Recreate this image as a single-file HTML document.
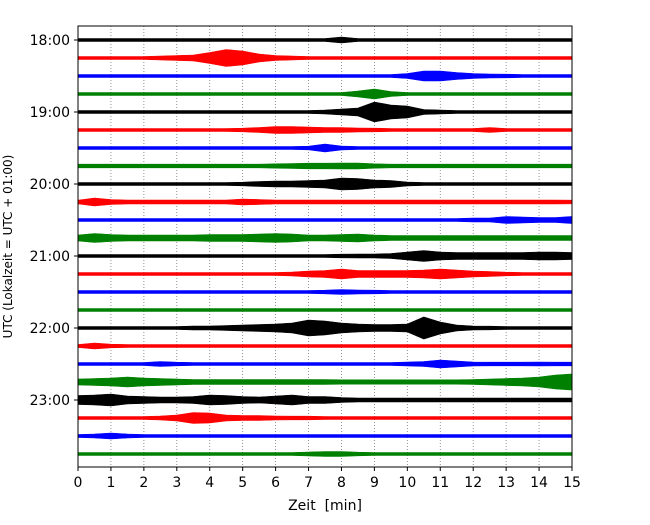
<!DOCTYPE html>
<html><head><meta charset="utf-8"><style>
body{margin:0;background:#fff;}
svg text{font-family:"DejaVu Sans","Liberation Sans",sans-serif;white-space:pre;}
</style></head><body>
<svg id="c" width="650" height="520" xmlns="http://www.w3.org/2000/svg"></svg>
<script>
// Time tick labels (minutes) and hour labels
const xTicks = [0,1,2,3,4,5,6,7,8,9,10,11,12,13,14,15];
const yTickLabels = ["18:00","19:00","20:00","21:00","22:00","23:00"];
const yTickValues = [0,4,8,12,16,20];
const traceColors = ["#000000","#ff0000","#0000ff","#008000"];
// sample times every 0.5 min
const sampleTimes = [0,0.5,1,1.5,2,2.5,3,3.5,4,4.5,5,5.5,6,6.5,7,7.5,8,8.5,9,9.5,10,10.5,11,11.5,12,12.5,13,13.5,14,14.5,15];
// envelope half-amplitudes per trace (px units, trace spacing = 18)
const t00 = [1.5,1.5,1.5,1.5,1.5,1.5,1.5,1.5,1.5,1.5,1.5,1.5,1.5,1.5,1.5,1.5,3,1.5,1.5,1.5,1.5,1.5,1.5,1.5,1.5,1.5,1.5,1.5,1.5,1.5,1.5];
const t01 = [1.5,1.5,1.5,1.5,1.5,2,2.5,3,5.5,8.5,7,4,2.5,2,1.5,1.5,1.5,1.5,1.5,1.5,1.5,1.5,1.5,1.5,1.5,1.5,1.5,1.5,1.5,1.5,1.5];
const t02 = [1.5,1.5,1.5,1.5,1.5,1.5,1.5,1.5,1.5,1.5,1.5,1.5,1.5,1.5,1.5,1.5,1.5,1.5,1.5,1.5,2.5,5,5,3.5,2.5,2,1.8,1.5,1.5,1.5,1.5];
const t03 = [1.5,1.5,1.5,1.5,1.5,1.5,1.5,1.5,1.5,1.5,1.5,1.5,1.5,1.5,1.5,1.5,1.5,3,5,2.5,1.5,1.5,1.5,1.5,1.5,1.5,1.5,1.5,1.5,1.5,1.5];
const t04 = [1.5,1.5,1.5,1.5,1.5,1.5,1.5,1.5,1.5,1.5,1.5,1.5,1.5,1.5,1.5,2,3,4,10,7,6,2.5,2,1.5,1.5,1.5,1.5,1.5,1.5,1.5,1.5];
const t05 = [1.5,1.5,1.5,1.5,1.5,1.5,1.5,1.5,1.5,1.5,1.8,2.5,3.5,3.5,3,2.5,2.5,2,1.8,1.5,1.5,1.5,1.5,1.5,1.5,2.5,1.5,1.5,1.5,1.5,1.5];
const t06 = [1.5,1.5,1.5,1.5,1.5,1.5,1.5,1.5,1.5,1.5,1.5,1.5,1.5,1.5,1.8,4,2,1.5,1.5,1.5,1.5,1.5,1.5,1.5,1.5,1.5,1.5,1.5,1.5,1.5,1.5];
const t07 = [1.8,1.8,1.8,1.8,1.8,1.8,1.8,1.8,1.8,1.8,1.8,1.8,2.2,2.5,2.8,2.8,3,3,2.2,1.8,1.8,1.8,1.8,1.8,1.8,1.8,1.8,1.8,1.8,1.8,1.8];
const t08 = [1.5,1.5,1.5,1.5,1.5,1.5,1.5,1.5,1.5,1.5,1.8,2.5,3,3,3.5,4,6,5.5,4,3.5,2,1.5,1.5,1.5,1.5,1.5,1.5,1.5,1.5,1.5,1.5];
const t09 = [1.8,4,2.5,2,2,2,2,2,2,2,3,2.5,2,2,2,2,2,2,2,2,2,2,2,2,2,2,2,2,2,2,1.8];
const t10 = [1.5,1.5,1.5,1.5,1.5,1.5,1.5,1.5,1.5,1.5,1.5,1.5,1.5,1.5,1.5,1.5,1.5,1.5,1.5,1.5,1.5,1.5,1.5,1.5,2,2,3.5,3,2.5,2.5,3.5];
const t11 = [3,4.5,3.5,3,3,3,3,3,3.5,3.5,3.5,4,4.5,4,3,3,3.5,4,3,2.5,2.5,2.5,2.5,2.5,2.5,2.5,2.5,2.5,2.5,2.5,2.5];
const t12 = [1.5,1.5,1.5,1.5,1.5,1.5,1.5,1.5,1.5,1.5,1.5,1.5,1.5,1.5,1.5,1.5,1.8,2,2,2.5,4,5.5,4,3.5,3.5,3.5,3.5,3.5,4,4,3.5];
const t13 = [1.5,1.5,1.5,1.5,1.5,1.5,1.5,1.5,1.5,1.5,1.5,1.5,1.5,2,3,3.5,5,3.5,3.5,3.5,3.5,4,5,4,3,2.5,1.8,1.5,1.5,1.5,1.5];
const t14 = [1.5,1.5,1.5,1.5,1.5,1.5,1.5,1.5,1.5,1.5,1.5,1.5,1.5,1.5,1.5,1.8,2.5,2,1.8,1.5,1.5,1.5,1.5,1.5,1.5,1.5,1.5,1.5,1.5,1.5,1.5];
const t15 = [1.5,1.5,1.5,1.5,1.5,1.5,1.5,1.5,1.5,1.5,1.5,1.5,1.5,1.5,1.5,1.5,1.5,1.5,1.5,1.5,1.5,1.5,1.5,1.5,1.5,1.5,1.5,1.5,1.5,1.5,1.5];
const t16 = [1.5,1.5,1.5,1.5,1.5,1.5,1.5,2,2,2.5,3,3.5,4,5,8,7,5,4,3.5,3.5,4,11,6,3,2,1.8,1.5,1.5,1.5,1.5,1.5];
const t17 = [1.5,3,1.8,1.5,1.5,1.5,1.5,1.5,1.5,1.5,1.5,1.5,1.5,1.5,1.5,1.5,1.5,1.5,1.5,1.5,1.5,1.5,1.5,1.5,1.5,1.5,1.5,1.5,1.5,1.5,1.5];
const t18 = [1.5,1.5,1.5,1.5,1.5,2.5,1.8,1.5,1.5,1.5,1.5,1.5,1.5,1.5,1.5,1.5,1.5,1.5,1.5,1.5,2,2.5,4,3,2,1.8,1.8,1.8,2,1.8,1.8];
const t19 = [3,3.5,4,5,4,3.5,3,2.5,2.5,2.5,2.5,2.5,2.5,2.5,2.5,2.5,2.2,2.2,2.2,2.2,2.2,2.2,2.2,2.2,2.5,3,3.5,4,5,7,8];
const t20 = [4.5,5,6,4,3.5,3,3,3.5,5,4.5,3.5,3,4,5,3.5,3.5,2.5,2,2,2,2,2,2,2,2,2,2,2,2,2,2];
const t21 = [1.5,1.5,1.5,1.5,1.5,2,3,5.5,5,3,2.5,2.5,2,1.8,1.8,1.5,1.5,1.5,1.5,1.5,1.5,1.5,1.5,1.5,1.5,1.5,1.5,1.5,1.5,1.5,1.5];
const t22 = [1.5,2,3,2,1.5,1.5,1.5,1.5,1.5,1.5,1.5,1.5,1.5,1.5,1.5,1.5,1.5,1.5,1.5,1.5,1.5,1.5,1.5,1.5,1.5,1.5,1.5,1.5,1.5,1.5,1.5];
const t23 = [1.5,1.5,1.5,1.5,1.5,1.5,1.5,1.5,1.5,1.5,1.5,1.5,1.5,1.5,2,2.5,2.5,1.8,1.5,1.5,1.5,1.5,1.5,1.5,1.5,1.5,1.5,1.5,1.5,1.5,1.5];
const traces = [t00,t01,t02,t03,t04,t05,t06,t07,t08,t09,t10,t11,t12,t13,t14,t15,t16,t17,t18,t19,t20,t21,t22,t23];

const NS="http://www.w3.org/2000/svg";
const svg=document.getElementById('c');
const L=78,R=572,T=26,B=467;
const xS=v=>L+(v-0)/(15-0)*(R-L);
const yS=i=>40+i*18;
function el(tag,attrs,parent){const e=document.createElementNS(NS,tag);for(const k in attrs)e.setAttribute(k,attrs[k]);(parent||svg).appendChild(e);return e;}

const grid=el('g',{});


xTicks.forEach(v=>{ if(v>0&&v<15) el('line',{x1:xS(v),x2:xS(v),y1:T,y2:B,stroke:'#777','stroke-width':0.8,'stroke-dasharray':'1,2'},grid);});

const tg=el('g',{});


traces.forEach((amp,i)=>{
  const y0=yS(i);
  let up=[],dn=[];
  sampleTimes.forEach((t,j)=>{up.push(xS(t).toFixed(1)+','+(y0-amp[j]).toFixed(1));});
  for(let j=sampleTimes.length-1;j>=0;j--) dn.push(xS(sampleTimes[j]).toFixed(1)+','+(y0+amp[j]).toFixed(1));
  const p=el('polygon',{points:up.concat(dn).join(' '),fill:traceColors[i%4],stroke:traceColors[i%4],'stroke-width':0.6},tg);
  
  
});

const frame=el('rect',{x:L,y:T,width:R-L,height:B-T,fill:'none',stroke:'#000','stroke-width':1});



const xa=el('g',{});


xTicks.forEach(v=>{
  el('line',{x1:xS(v),x2:xS(v),y1:B,y2:B+4,stroke:'#000'},xa);
  const t=el('text',{x:xS(v),y:B+20,'font-size':14,'text-anchor':'middle'},xa);
  t.textContent=v;
  
  
});
const ya=el('g',{});


yTickValues.forEach((v,k)=>{
  el('line',{x1:L-4,x2:L,y1:yS(v),y2:yS(v),stroke:'#000'},ya);
  const t=el('text',{x:L-8,y:yS(v)+5,'font-size':14,'text-anchor':'end'},ya);
  t.textContent=yTickLabels[k];
  
  
});
const xl=el('text',{x:(L+R)/2,y:510,'font-size':14,'text-anchor':'middle'});
xl.textContent='Zeit  [min]';


const yl=el('text',{x:0,y:0,'font-size':12,'text-anchor':'middle',transform:'translate(12,'+((T+B)/2)+') rotate(-90)'});
yl.textContent='UTC (Lokalzeit = UTC + 01:00)';


</script>
</body></html>
